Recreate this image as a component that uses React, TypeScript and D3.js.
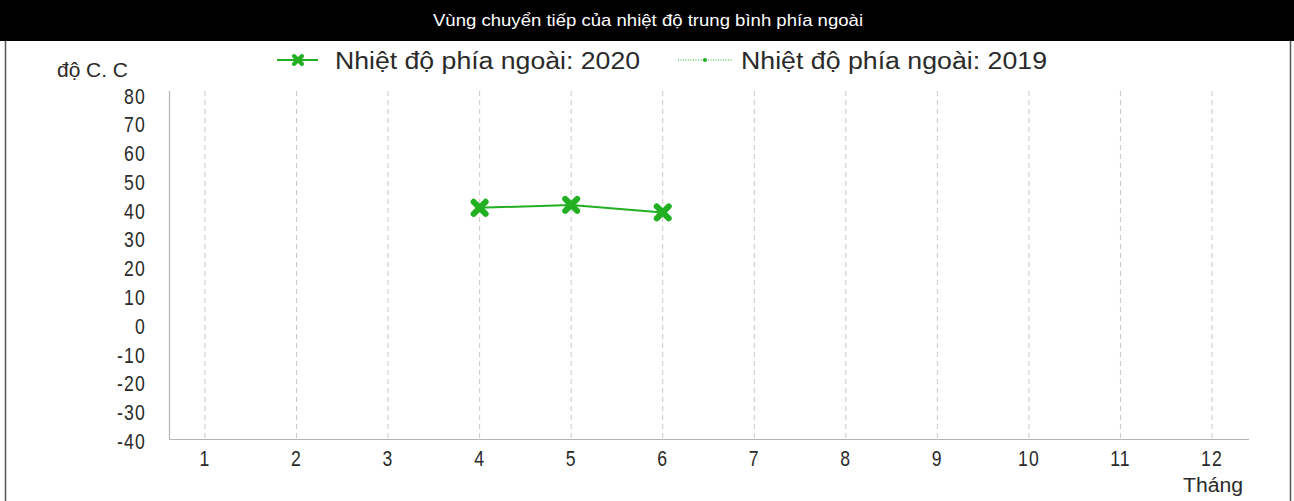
import React from "react";
import * as d3 from "d3";

const months = [1, 2, 3, 4, 5, 6, 7, 8, 9, 10, 11, 12];
const yTicks = [80, 70, 60, 50, 40, 30, 20, 10, 0, -10, -20, -30, -40];
const series2020Months = [4, 5, 6];
const series2020Values = [40.3, 41.3, 38.7];
const series2019Months: number[] = [];
const series2019Values: number[] = [];
const title = "Vùng chuyển tiếp của nhiệt độ trung bình phía ngoài";
const legend2020 = "Nhiệt độ phía ngoài: 2020";
const legend2019 = "Nhiệt độ phía ngoài: 2019";
const yUnit = "độ C. C";
const xUnit = "Tháng";

const W = 1294;
const H = 501;
const FONT = "'Liberation Sans', Arial, sans-serif";

function XMarker({ x, y, s, color, w }: { x: number; y: number; s: number; color: string; w: number }) {
  return (
    <g>
      <line x1={x - s} y1={y - s} x2={x + s} y2={y + s} stroke={color} strokeWidth={w} strokeLinecap="round" />
      <line x1={x - s} y1={y + s} x2={x + s} y2={y - s} stroke={color} strokeWidth={w} strokeLinecap="round" />
    </g>
  );
}

export default function App() {
  const x = d3.scaleLinear().domain([1, 12]).range([205, 1212]);
  const y = d3.scaleLinear().domain([-40, 80]).range([439, 93.5]);
  const line = d3
    .line<number>()
    .x((_, i) => x(series2020Months[i]))
    .y((d) => y(d));
  const line19 = d3
    .line<number>()
    .x((_, i) => x(series2019Months[i]))
    .y((d) => y(d));
  const green = "#22b022";
  const txt = "#2a2a2a";
  return (
    <svg
      width={W}
      height={H}
      style={{ position: "absolute", left: 0, top: 0, background: "#fff" }}
      fontFamily={FONT}
    >
      <rect x={0} y={0} width={W} height={41} fill="#000" />
      <line x1={5.5} y1={41} x2={5.5} y2={H} stroke="#555" strokeWidth={1.5} />
      <line x1={1290.5} y1={41} x2={1290.5} y2={H} stroke="#555" strokeWidth={1.5} />
      <text x={433} y={26} fill="#fff" fontSize={17} textLength={430} lengthAdjust="spacingAndGlyphs">
        {title}
      </text>

      {/* gridlines */}
      {months.map((m) => (
        <line
          key={"g" + m}
          x1={x(m)}
          x2={x(m)}
          y1={91}
          y2={439}
          stroke="#c8c8c8"
          strokeDasharray="5,4"
          strokeWidth={1}
        />
      ))}
      {/* axes */}
      <line x1={169.5} x2={169.5} y1={91} y2={439.5} stroke="#b4b4b4" strokeWidth={1.2} />
      <line x1={169} x2={1249} y1={439.5} y2={439.5} stroke="#b4b4b4" strokeWidth={1.2} />

      {yTicks.map((t) => (
        <text
          key={"y" + t}
          transform={`translate(146,${y(t) + 10}) scale(0.8,1)`}
          fontSize={22}
          fill={txt}
          textAnchor="end"
          letterSpacing={1.5}
        >
          {t}
        </text>
      ))}
      {months.map((m) => (
        <text
          key={"x" + m}
          transform={`translate(${x(m)},466) scale(0.8,1)`}
          fontSize={22}
          fill={txt}
          textAnchor="middle"
          letterSpacing={1.5}
        >
          {m}
        </text>
      ))}
      <text x={57} y={77} fontSize={20} fill={txt} textLength={71} lengthAdjust="spacingAndGlyphs">
        {yUnit}
      </text>
      <text x={1183} y={492} fontSize={20} fill={txt} textLength={60} lengthAdjust="spacingAndGlyphs">
        {xUnit}
      </text>

      {/* legend */}
      <line x1={277} x2={318} y1={60} y2={60} stroke={green} strokeWidth={2} />
      <XMarker x={298} y={60} s={4} color={green} w={4} />
      <text x={335} y={69} fontSize={23} fill={txt} textLength={305} lengthAdjust="spacingAndGlyphs">
        {legend2020}
      </text>
      <line x1={678} x2={732} y1={60} y2={60} stroke={green} strokeWidth={1} strokeDasharray="1,1.5" />
      <circle cx={705} cy={60} r={2} fill={green} />
      <text x={741} y={69} fontSize={23} fill={txt} textLength={306} lengthAdjust="spacingAndGlyphs">
        {legend2019}
      </text>

      {/* series 2019 */}
      {series2019Values.length > 0 && (
        <path d={line19(series2019Values) || ""} fill="none" stroke={green} strokeWidth={1} strokeDasharray="1,1.5" />
      )}
      {/* series 2020 */}
      <path d={line(series2020Values) || ""} fill="none" stroke={green} strokeWidth={2} />
      {series2020Values.map((v, i) => (
        <XMarker key={"m" + i} x={x(series2020Months[i])} y={y(v)} s={6} color={green} w={6} />
      ))}
    </svg>
  );
}
